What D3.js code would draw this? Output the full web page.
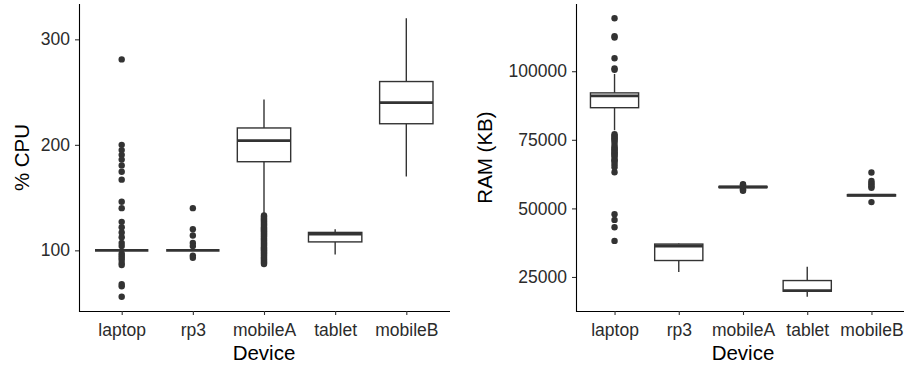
<!DOCTYPE html>
<html>
<head>
<meta charset="utf-8">
<script src="https://cdn.jsdelivr.net/npm/d3@7"></script>
<style>
body { margin: 0; background: #fff; }
svg { display: block; font-family: "Liberation Sans", Arial, sans-serif; }
.tick text { fill: #2b2b2b; font-size: 17.5px; }
.tick line { stroke: #333; stroke-width: 1.1; }
.domain { stroke: #000; stroke-width: 1.1; }
</style>
</head>
<body>
<svg width="904" height="366"></svg>
<script>
var devices = ["laptop", "rp3", "mobileA", "tablet", "mobileB"];

// CPU boxplot stats (whisker low, q1, median, q3, whisker high)
var cpuLow = [100, 100, 135, 96, 170];
var cpuQ1 = [100, 100, 184, 108, 220];
var cpuMed = [100, 100, 204, 115.5, 240];
var cpuQ3 = [100, 100, 216, 117, 260];
var cpuHigh = [100, 100, 243, 120, 320];
var cpuOutliers = [
    [281, 200, 195, 190.5, 186, 180.5, 174.5, 167, 146, 140, 127, 122, 117, 112.5, 107, 104, 97, 95, 93, 91, 88, 86, 68, 66, 56],
    [140, 120, 114, 107, 104, 95, 93],
    [133, 132, 131, 130, 129, 128, 127, 126, 125, 124, 123, 122, 121, 120, 119, 118, 117, 116, 115, 114, 113, 112, 111, 110,
     109, 108, 107, 106, 105, 104, 103, 102, 101, 100, 99, 98, 97, 96, 95, 94, 93, 92, 91, 90, 89, 88, 87],
    [],
    []
];
var cpuTicks = [100, 200, 300];

// RAM boxplot stats
var ramLow = [78500, 26800, 57500, 17800, 54500];
var ramQ1 = [86700, 31000, 57600, 19800, 54500];
var ramMed = [91000, 36300, 57800, 20000, 54800];
var ramQ3 = [92100, 37000, 58000, 23700, 55000];
var ramHigh = [99000, 37200, 58200, 28700, 55200];
var ramOutliers = [
    [119300, 112800, 112300, 104700, 101000, 100500, 77000, 76500, 76000, 75500, 75000, 74500, 73500, 72500, 72000, 71500,
     71000, 70500, 70000, 69500, 69000, 68000, 67500, 67000, 66000, 65000, 63200, 47900, 45800, 43100, 38150],
    [],
    [58800, 58500, 58200, 57000, 56700, 56400],
    [],
    [63100, 60000, 59300, 58700, 58000, 57500, 52300]
];
var ramTicks = [25000, 50000, 75000, 100000];

var svg = d3.select('svg');
var plotTop = 4, plotBottom = 311;

function panel(x0, x1, domain, low, q1, med, q3, high, outliers, ticks, ylabel, ylabelX) {
    var g = svg.append('g');

    var xScale = d3.scalePoint()
        .domain(devices)
        .range([x0, x1])
        .padding(0.6);
    var boxW = xScale.step() * 0.75;

    var yScale = d3.scaleLinear()
        .domain(domain)
        .range([plotBottom, plotTop]);

    var rows = devices.map(function(d, i) {
        return {dev: d, low: low[i], q1: q1[i], med: med[i], q3: q3[i], high: high[i], out: outliers[i]};
    });

    var box = g.selectAll('g.box')
        .data(rows)
        .enter()
        .append('g')
        .attr('class', 'box');

    // whiskers
    box.append('line')
        .attr('x1', function(d){ return xScale(d.dev); })
        .attr('x2', function(d){ return xScale(d.dev); })
        .attr('y1', function(d){ return yScale(d.q3); })
        .attr('y2', function(d){ return yScale(d.high); })
        .attr('stroke', '#333').attr('stroke-width', 1.4);
    box.append('line')
        .attr('x1', function(d){ return xScale(d.dev); })
        .attr('x2', function(d){ return xScale(d.dev); })
        .attr('y1', function(d){ return yScale(d.q1); })
        .attr('y2', function(d){ return yScale(d.low); })
        .attr('stroke', '#333').attr('stroke-width', 1.4);

    // outliers
    box.selectAll('circle')
        .data(function(d){ return d.out.map(function(v){ return {dev: d.dev, v: v}; }); })
        .enter()
        .append('circle')
        .attr('r', 3.2)
        .attr('cx', function(d){ return xScale(d.dev); })
        .attr('cy', function(d){ return yScale(d.v); })
        .attr('fill', '#333');

    // box
    box.append('rect')
        .attr('x', function(d){ return xScale(d.dev) - boxW / 2; })
        .attr('width', boxW)
        .attr('y', function(d){ return yScale(d.q3); })
        .attr('height', function(d){ return yScale(d.q1) - yScale(d.q3); })
        .attr('fill', '#fff')
        .attr('stroke', '#333').attr('stroke-width', 1.4);

    // median
    box.append('line')
        .attr('x1', function(d){ return xScale(d.dev) - boxW / 2; })
        .attr('x2', function(d){ return xScale(d.dev) + boxW / 2; })
        .attr('y1', function(d){ return yScale(d.med); })
        .attr('y2', function(d){ return yScale(d.med); })
        .attr('stroke', '#333').attr('stroke-width', 2.8);

    var xAxis = g.append('g')
        .attr('transform', 'translate(0,' + plotBottom + ')')
        .call(d3.axisBottom(xScale).tickSize(4).tickPadding(9).tickSizeOuter(0));
    xAxis.select('.domain').attr('d', 'M' + x0 + ',0.5H' + (x1 + 1));

    var yAxis = g.append('g')
        .attr('transform', 'translate(' + x0 + ',0)')
        .call(d3.axisLeft(yScale).tickValues(ticks).tickSize(4).tickPadding(5).tickSizeOuter(0).tickFormat(d3.format('d')));
    yAxis.select('.domain').attr('d', 'M0.5,' + plotTop + 'V' + (plotBottom + 1));

    // axis titles
    g.append('text')
        .attr('x', (x0 + x1) / 2)
        .attr('y', 360)
        .attr('text-anchor', 'middle')
        .style('font-size', '20.5px')
        .attr('fill', '#000')
        .text('Device');

    g.append('text')
        .attr('transform', 'rotate(-90)')
        .attr('x', -(plotTop + plotBottom) / 2)
        .attr('y', ylabelX)
        .attr('text-anchor', 'middle')
        .style('font-size', '20.5px')
        .attr('fill', '#000')
        .text(ylabel);
}

panel(79, 449, [42.5, 333.5], cpuLow, cpuQ1, cpuMed, cpuQ3, cpuHigh, cpuOutliers, cpuTicks, '% CPU', 29);
panel(576, 910, [12600, 124500], ramLow, ramQ1, ramMed, ramQ3, ramHigh, ramOutliers, ramTicks, 'RAM (KB)', 492);
</script>
</body>
</html>
